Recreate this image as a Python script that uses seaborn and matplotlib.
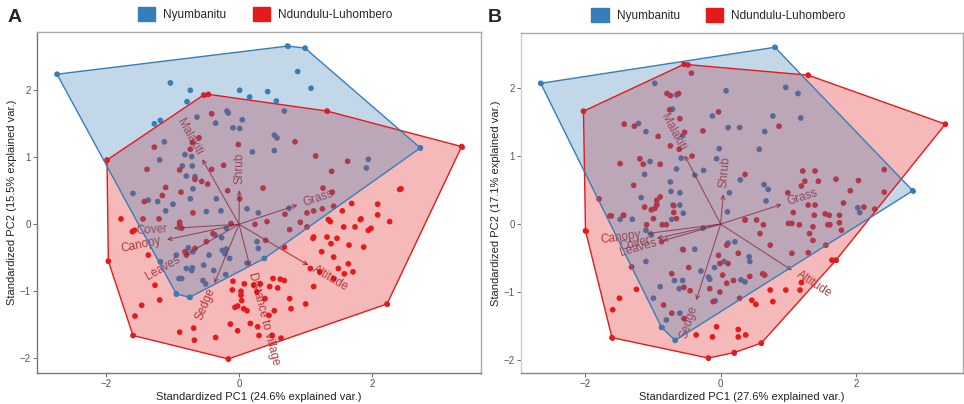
import numpy as np
import pandas as pd
import matplotlib
matplotlib.use("Agg")
import matplotlib.pyplot as plt
import seaborn as sns
from matplotlib.patches import Patch

sns.set_theme(style="white")
plt.rcParams["font.family"] = ["Liberation Sans", "DejaVu Sans"]

groups = ["Nyumbanitu", "Ndundulu-Luhombero"]
palette = {"Nyumbanitu": "#377EB8", "Ndundulu-Luhombero": "#E41A1C"}
arrow_col = "#8B0000"

# ---------------- Panel A data ----------------
a_blue_x = [-2.73,0.73,0.99,0.88,1.08,-1.03,-0.73,-0.78,0.01,0.16,0.43,0.56,0.68,-1.27,-1.18,-0.63,-0.18,-0.16,-0.35,0.05,
            -0.09,0.01,-0.81,-0.71,-1.12,-1.19,-0.85,-0.70,-0.79,-0.66,-0.69,-1.59,-1.36,-1.22,-0.99,-1.10,-0.73,-0.49,-0.27,-0.34,
            0.12,0.29,0.75,0.53,0.57,0.53,0.20,1.94,1.91,2.72,-0.94,-0.74,-1.18,-0.76,-0.69,-0.70,-0.71,-0.90,-0.86,-0.53,
            -0.45,-0.25,-0.19,-0.21,-0.14,-0.26,-0.54,-0.50,-0.20,-0.38,0.27,0.12,0.38,-0.36,-0.19,-0.94,-0.79,0.29]
a_blue_y = [2.24,2.66,2.63,2.28,2.03,2.11,2.00,1.83,2.00,1.90,1.98,1.84,1.69,1.50,1.55,1.60,1.69,1.66,1.51,1.56,
            1.44,1.43,1.04,1.01,1.23,0.96,0.87,0.87,0.72,0.71,0.53,0.46,0.36,0.34,0.30,0.20,0.38,0.19,0.20,0.38,
            0.23,0.17,0.24,1.33,1.29,1.10,1.08,0.97,0.84,1.14,-1.04,-1.09,-0.56,-0.35,-0.41,-0.65,-0.69,-0.81,-0.81,-0.61,
            -0.46,-0.39,-0.37,-0.44,-0.51,-0.20,-0.84,-0.89,-0.75,-0.69,-0.26,-0.58,-0.51,-0.16,-0.06,-0.46,-0.66,-0.36]
a_red_x = [-0.53,-0.46,1.32,3.34,-1.98,-0.41,-0.60,-0.70,-0.73,-1.27,-1.38,-0.89,-0.66,-0.56,-0.47,-0.41,-0.23,-0.01,0.84,1.15,
           1.63,1.39,0.36,1.26,1.42,1.02,1.12,0.69,0.92,1.25,1.40,1.55,1.69,2.08,1.83,2.08,2.41,2.43,2.26,1.98,
           -1.10,-1.15,-0.87,-1.42,-1.44,-1.20,-1.77,-0.89,-0.69,-0.17,0.01,-0.12,0.24,0.42,0.76,1.12,1.34,1.37,1.57,
           -1.96,-1.59,-0.16,0.63,2.22,-1.60,-1.57,-1.36,-1.26,-1.19,-1.46,-1.56,-0.89,-0.67,-0.68,-0.35,-0.13,-0.02,0.17,0.28,
           0.30,0.50,0.45,0.53,-0.10,0.03,0.03,0.04,-0.06,-0.02,0.07,0.12,0.39,0.58,0.68,0.76,0.78,1.00,1.12,1.21,
           1.07,1.42,1.58,1.64,1.49,1.42,1.38,1.32,1.11,1.24,1.74,1.82,1.94,1.71,0.51,0.62,0.46,0.32,0.22,0.08,
           0.27,-0.09,-0.89,-0.86,-0.81,-0.79,-0.66,-0.49,-0.39,0.40,0.68,1.02,1.47,1.65,1.87]
a_red_y = [1.93,1.94,1.69,1.16,0.96,1.65,1.29,1.22,1.12,1.15,0.82,0.81,0.67,0.64,0.60,0.82,0.88,1.19,1.23,1.02,
           0.94,0.79,0.54,0.54,0.27,0.17,0.20,0.15,0.03,0.23,0.48,0.20,0.31,0.30,0.08,0.14,0.52,0.53,0.04,-0.06,
           0.55,0.43,0.48,0.34,0.08,0.08,0.08,0.03,0.17,0.50,0.38,0.01,0.00,0.04,-0.08,-0.19,0.07,0.04,-0.04,
           -0.55,-1.66,-2.01,-1.70,-1.19,-0.11,-0.09,-0.46,-0.91,-1.13,-1.21,-1.37,-1.61,-1.73,-1.55,-1.69,-1.49,-1.59,-1.48,-1.53,
           -1.66,-1.66,-1.36,-1.29,-0.98,-1.00,-1.06,-1.14,-1.24,-1.22,-1.26,-1.29,-1.11,-0.95,-0.84,-1.11,-1.26,-1.19,-0.93,-0.71,
           -0.66,-0.81,-0.74,-0.59,-0.66,-0.49,-0.29,-0.19,-0.21,-0.41,-0.04,0.07,-0.09,-0.71,-0.81,-0.82,-0.93,-0.89,-0.91,-0.89,
           -1.01,-0.85,-0.01,-0.06,-0.41,-0.46,-0.36,-0.26,-0.14,-0.24,-0.34,-0.04,-0.21,-0.31,-0.34]
a_vars = ["Malakiti", "Shrub", "Grass", "Cover", "Canopy", "Leaves", "Sedge", "Distance to village", "Altitude"]
a_load_x = [-0.55, 0.005, 0.88, -0.98, -1.08, -0.81, -0.37, 0.165, 1.04]
a_load_y = [0.97, 0.51, 0.29, -0.06, -0.23, -0.46, -0.88, -0.63, -0.61]
a_xlabel = "Standardized PC1 (24.6% explained var.)"
a_ylabel = "Standardized PC2 (15.5% explained var.)"

# ---------------- Panel B data ----------------
b_blue_x = [-2.65,0.80,2.83,-0.97,0.08,0.96,1.14,1.18,0.77,0.65,0.57,0.11,0.28,-0.12,-0.71,-0.65,-1.21,-1.10,-1.04,-1.12,
            -0.56,-0.58,-0.65,-0.74,-0.73,-0.60,-0.70,-0.60,-0.94,-1.17,-1.30,-1.48,-0.38,-0.25,-0.06,-0.02,0.13,0.10,0.29,0.64,
            0.70,0.67,2.02,2.05,
            -0.67,-0.87,-1.10,-0.89,-0.99,-0.80,-0.60,-0.56,-0.68,-0.29,-0.16,-0.18,-0.08,0.21,0.11,0.42,0.43,0.30,0.36,-0.56,-0.38,
            -0.55,-0.72,-1.10,-1.02,-0.26,-0.09,-0.61,0.05]
b_blue_y = [2.07,2.60,0.49,2.07,1.96,2.01,1.92,1.56,1.59,1.36,1.10,1.42,1.42,1.59,1.69,1.90,1.48,1.36,0.92,0.73,
            1.30,0.97,0.81,0.62,0.48,0.46,0.28,0.28,0.29,0.39,0.07,0.07,0.72,0.79,0.96,1.11,0.46,0.18,0.65,0.58,
            0.51,0.34,0.24,0.17,
            -1.71,-1.52,-0.55,-0.92,-1.09,-1.41,-1.31,-0.83,-0.83,-0.69,-0.81,-0.78,-1.13,-0.26,-0.28,-0.48,-0.55,-0.82,-0.85,-0.37,-0.37,
            0.16,0.07,-0.09,-0.16,-0.06,-0.64,-0.95,-0.55]
b_red_x = [-2.02,-0.54,-0.48,1.29,3.31,-0.43,-0.79,-0.74,-0.62,-0.75,-0.60,-1.42,-1.27,-0.92,-0.74,-0.53,-0.61,-0.03,-0.26,0.86,
           -1.48,-1.19,-1.14,-0.89,-1.28,-0.89,-0.94,-1.02,-0.97,-1.79,-1.61,-1.43,-0.69,-0.69,-0.42,0.36,1.21,1.39,1.44,1.70,
           2.03,1.91,2.41,2.41,1.81,2.27,1.24,1.19,0.99,1.07,1.29,1.39,1.38,1.54,1.75,2.11,1.75,1.61,0.53,0.36,1.00,
           -1.99,-1.60,-0.18,0.20,0.60,-1.59,-1.49,-1.24,-1.31,-1.63,-1.43,-1.09,-0.99,-0.86,-0.80,-0.65,-1.12,-0.94,-0.87,-0.55,
           -0.47,-0.72,-0.54,-0.45,-0.84,-0.72,-0.54,-0.36,-0.12,-0.06,0.26,0.26,0.37,0.52,0.77,0.73,0.96,1.19,1.17,1.64,
           1.70,0.09,-0.03,-0.01,0.11,0.26,0.36,0.63,0.58,0.43,0.62,0.65,0.03,0.19,0.09,0.28,0.46,-0.16,-0.01,-0.11,
           1.05,1.16,1.31,1.36,1.05,1.29,0.73,1.36,1.58,1.78,1.60,1.55]
b_red_y = [1.66,2.35,2.34,2.19,1.47,2.22,1.92,1.89,1.92,1.68,1.55,1.47,1.44,1.29,1.15,1.35,1.10,1.65,1.37,1.44,
           0.89,0.96,0.88,0.88,0.57,0.40,0.35,0.21,0.23,0.37,0.12,0.13,0.27,0.17,1.00,0.73,0.78,0.78,0.63,0.66,
           0.64,0.49,0.80,0.47,0.31,0.22,0.63,0.56,0.46,0.17,0.28,0.28,0.13,0.15,0.13,0.25,0.02,-0.01,0.06,0.06,0.01,
           -0.10,-1.67,-1.97,-1.89,-1.75,-1.26,-1.09,-0.96,-0.63,0.12,0.13,-0.01,0.08,-0.01,-0.01,0.08,0.25,0.28,-0.26,-0.38,
           -0.64,-0.73,-0.93,-0.98,-1.19,-1.31,-1.39,-1.63,-1.66,-1.51,-1.55,-1.66,-1.63,-1.18,-1.14,-0.97,-0.97,-0.86,-0.97,-0.53,
           -0.53,-0.31,-0.46,-0.58,-0.58,-0.43,0.06,-0.01,-0.14,-0.77,-0.73,-0.75,-0.75,-0.83,-0.87,-1.09,-1.12,-0.95,-1.00,-1.14,
           0.01,-0.01,-0.14,-0.24,-0.43,-0.42,-0.31,-0.04,-0.01,-0.09,0.13,-0.31]
b_vars = ["Malakiti", "Shrub", "Grass", "Canopy", "Cover", "Leaves", "Sedge", "Altitude"]
b_load_x = [-0.53, 0.04, 0.90, -1.09, -0.94, -0.85, -0.36, 1.05]
b_load_y = [1.01, 0.44, 0.29, -0.14, -0.21, -0.245, -1.12, -0.68]
b_xlabel = "Standardized PC1 (27.6% explained var.)"
b_ylabel = "Standardized PC2 (17.1% explained var.)"


def make_df(bx, by, rx, ry):
    return pd.concat([
        pd.DataFrame({"PC1": bx, "PC2": by, "site": groups[0]}),
        pd.DataFrame({"PC1": rx, "PC2": ry, "site": groups[1]}),
    ], ignore_index=True)


def convex_hull(pts):
    pts = sorted(set(map(tuple, pts)))
    def cross(o, a, b):
        return (a[0]-o[0])*(b[1]-o[1]) - (a[1]-o[1])*(b[0]-o[0])
    lower, upper = [], []
    for p in pts:
        while len(lower) >= 2 and cross(lower[-2], lower[-1], p) <= 0:
            lower.pop()
        lower.append(p)
    for p in reversed(pts):
        while len(upper) >= 2 and cross(upper[-2], upper[-1], p) <= 0:
            upper.pop()
        upper.append(p)
    return np.array(lower[:-1] + upper[:-1])


def panel(ax, df, names, lx, ly, xlabel, ylabel, xlim, ylim):
    sns.scatterplot(data=df, x="PC1", y="PC2", hue="site", palette=palette, s=17,
                    linewidth=0, legend=False, ax=ax, zorder=1)
    # loadings arrows + labels
    for n, x, y in zip(names, lx, ly):
        ax.annotate("", xy=(x, y), xytext=(0, 0),
                    arrowprops=dict(arrowstyle="->", color=arrow_col, lw=0.8, alpha=0.75,
                                    mutation_scale=7, shrinkA=0, shrinkB=0), zorder=2)
    ax.set_xlim(*xlim)
    ax.set_ylim(*ylim)
    fig.canvas.draw()
    for n, x, y in zip(names, lx, ly):
        p0 = ax.transData.transform((0, 0))
        p1 = ax.transData.transform((x, y))
        d = p1 - p0
        d = d / np.hypot(*d)
        ang = np.degrees(np.arctan(d[1] / d[0])) if d[0] != 0 else 90.0
        ha = "left" if x >= 0 else "right"
        gap = 4.5
        ax.annotate(n, xy=(x, y), xytext=(d[0]*gap, d[1]*gap), textcoords="offset points",
                    rotation=ang, rotation_mode="anchor", ha=ha, va="center",
                    fontsize=8.5, color=arrow_col, alpha=0.75, zorder=2)
    # hulls: red first, then blue on top
    for g in [groups[1], groups[0]]:
        sub = df[df.site == g]
        h = convex_hull(sub[["PC1", "PC2"]].values)
        ax.fill(h[:, 0], h[:, 1], facecolor=palette[g], alpha=0.3, edgecolor="none", zorder=3)
        hc = np.vstack([h, h[:1]])
        ax.plot(hc[:, 0], hc[:, 1], color=palette[g], lw=1.0, zorder=3.5)
        ax.scatter(h[:, 0], h[:, 1], s=12, color=palette[g], linewidth=0, zorder=3.6)
    ax.set_xticks([-2, 0, 2])
    ax.set_yticks([-2, -1, 0, 1, 2])
    ax.set_xlabel(xlabel, fontsize=8, color="#222222", labelpad=2)
    ax.set_ylabel(ylabel, fontsize=8, color="#222222", labelpad=2)
    ax.tick_params(axis="both", which="both", length=3, width=0.6, color="#555555",
                   labelsize=7, labelcolor="#555555", pad=1.5, left=True, bottom=True)


fig = plt.figure(figsize=(9.64, 4.04), dpi=100)
axA = fig.add_axes([37/964, 1-373/404, 444/964, 341/404])
axB = fig.add_axes([521/964, 1-373/404, 442/964, 340/404])

dfA = make_df(a_blue_x, a_blue_y, a_red_x, a_red_y)
dfB = make_df(b_blue_x, b_blue_y, b_red_x, b_red_y)

panel(axA, dfA, a_vars, a_load_x, a_load_y, a_xlabel, a_ylabel, (-3.03, 3.63), (-2.22, 2.87))
panel(axB, dfB, b_vars, b_load_x, b_load_y, b_xlabel, b_ylabel, (-2.94, 3.57), (-2.19, 2.81))

for ax, cols in [(axA, ("#777777", "#777777", "#AAAAAA", "#AAAAAA")),
                 (axB, ("#CCCCCC", "#888888", "#AAAAAA", "#AAAAAA"))]:
    for side, c in zip(["left", "bottom", "top", "right"], cols):
        ax.spines[side].set_visible(True)
        ax.spines[side].set_color(c)
        ax.spines[side].set_linewidth(1.0)

handles = [Patch(facecolor=palette[g], edgecolor=palette[g]) for g in groups]
for ax, xc in [(axA, 0.514), (axB, 0.447)]:
    ax.legend(handles, groups, loc="center", bbox_to_anchor=(xc, 1.052), ncol=2, frameon=False,
              handlelength=1.45, handleheight=1.45, handletextpad=0.7, columnspacing=2.2,
              fontsize=8.5, borderaxespad=0)

fig.text(15/964, 1-17/404, "A", fontsize=14, fontweight="bold", ha="center", va="center")
fig.text(495/964, 1-17/404, "B", fontsize=14, fontweight="bold", ha="center", va="center")

fig.savefig("out.png", dpi=100)
